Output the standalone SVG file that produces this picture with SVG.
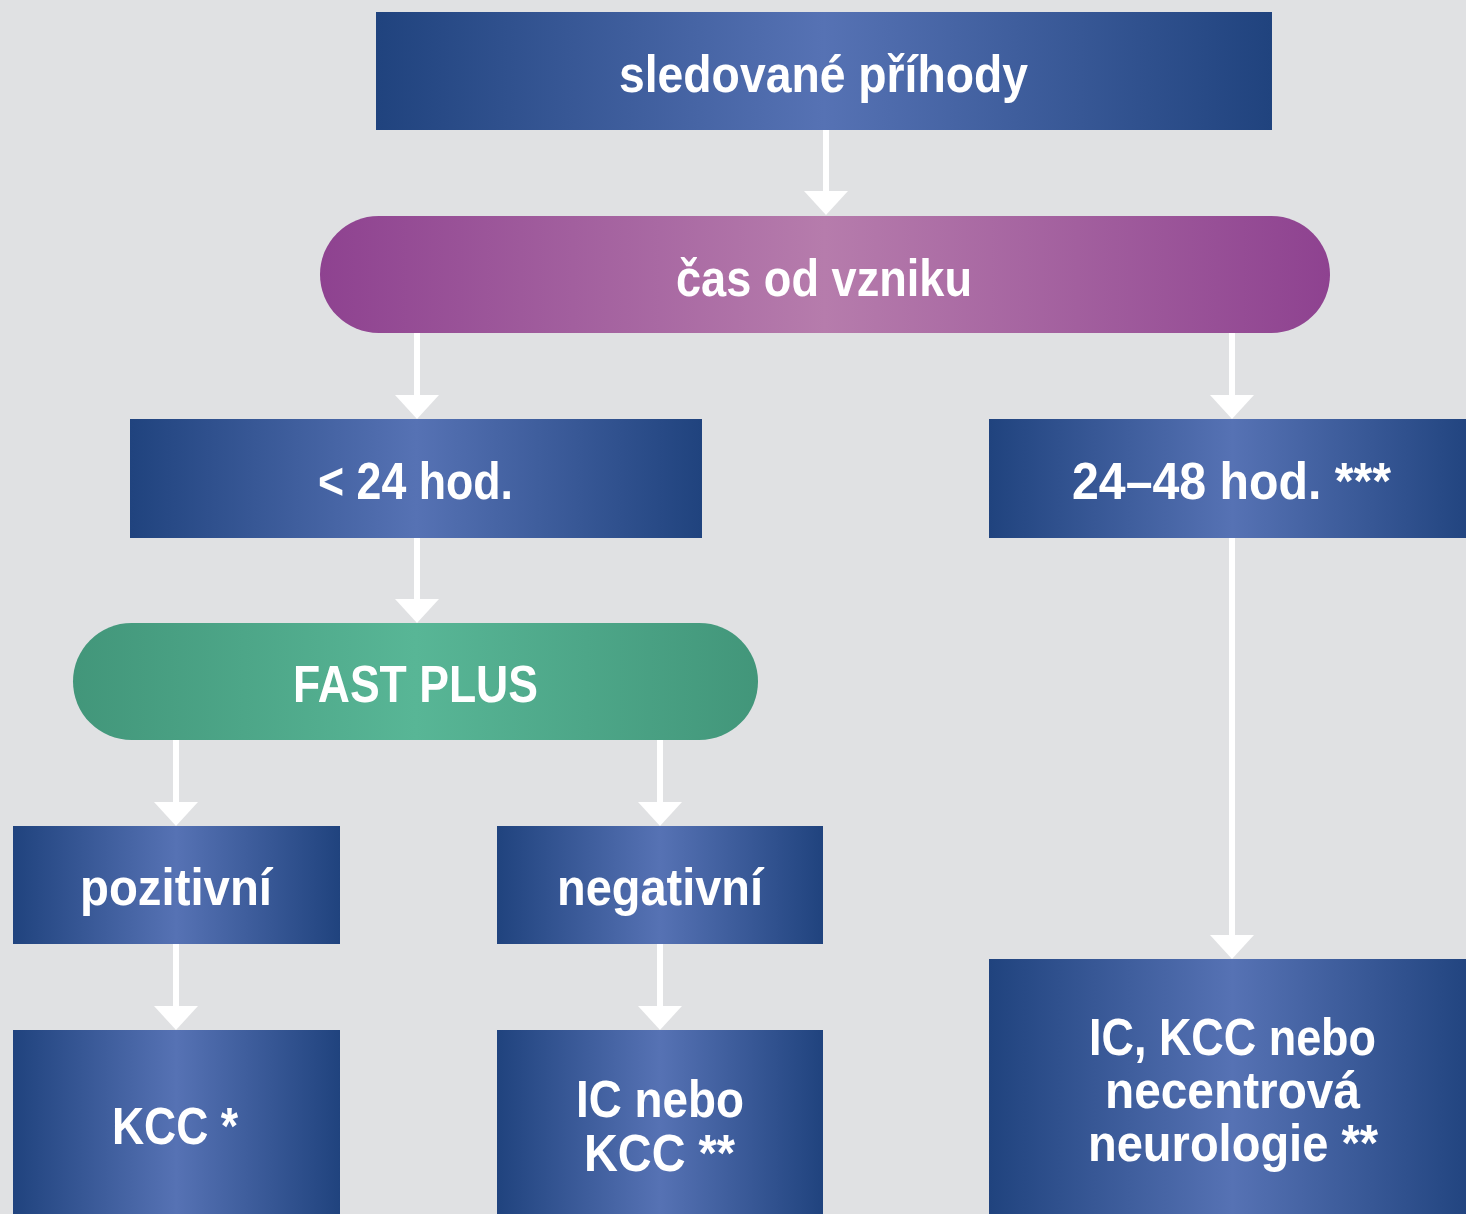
<svg xmlns="http://www.w3.org/2000/svg" width="1466" height="1214" viewBox="0 0 1466 1214">
<defs>
<linearGradient id="gBlue" x1="0" y1="0" x2="1" y2="0">
<stop offset="0" stop-color="#20437e"/>
<stop offset="0.5" stop-color="#5672b4"/>
<stop offset="1" stop-color="#20437e"/>
</linearGradient>
<linearGradient id="gPurple" x1="0" y1="0" x2="1" y2="0">
<stop offset="0" stop-color="#8e4290"/>
<stop offset="0.5" stop-color="#b67cac"/>
<stop offset="1" stop-color="#8e4290"/>
</linearGradient>
<linearGradient id="gGreen" x1="0" y1="0" x2="1" y2="0">
<stop offset="0" stop-color="#42967a"/>
<stop offset="0.5" stop-color="#58b696"/>
<stop offset="1" stop-color="#42967a"/>
</linearGradient>
<marker id="ah" viewBox="0 0 24 44" refX="4" refY="22" markerWidth="24" markerHeight="44" markerUnits="userSpaceOnUse" orient="auto">
<path d="M0,0 L24,22 L0,44 z" fill="#ffffff"/>
</marker>
</defs>
<style>
.blue{fill:url(#gBlue)}
.purple{fill:url(#gPurple)}
.green{fill:url(#gGreen)}
.t{font-family:"Liberation Sans",Arial,sans-serif;font-weight:bold;font-size:52px;fill:#ffffff}
.c{fill:none;stroke:#ffffff;stroke-width:6;marker-end:url(#ah)}
</style>
<rect width="1466" height="1214" fill="#e0e1e3"/>
<g id="connectors">
<line class="c" x1="826" y1="130" x2="826" y2="195"/>
<line class="c" x1="417" y1="333" x2="417" y2="399"/>
<line class="c" x1="1232" y1="333" x2="1232" y2="399"/>
<line class="c" x1="417" y1="538" x2="417" y2="603"/>
<line class="c" x1="176" y1="740" x2="176" y2="806"/>
<line class="c" x1="660" y1="740" x2="660" y2="806"/>
<line class="c" x1="176" y1="944" x2="176" y2="1010"/>
<line class="c" x1="660" y1="944" x2="660" y2="1010"/>
<line class="c" x1="1232" y1="538" x2="1232" y2="939"/>
</g>
<g id="n-sledovane">
<rect class="blue" x="376" y="12" width="896" height="118"/>
<text class="t" x="619" y="92" font-size="54" textLength="409" lengthAdjust="spacingAndGlyphs">sledované příhody</text>
</g>
<g id="n-cas">
<rect class="purple" x="320" y="216" width="1010" height="117" rx="58.5" ry="58.5"/>
<text class="t" x="676" y="296" textLength="296" lengthAdjust="spacingAndGlyphs">čas od vzniku</text>
</g>
<g id="n-lt24">
<rect class="blue" x="130" y="419" width="572" height="119"/>
<text class="t" x="318" y="499" textLength="195" lengthAdjust="spacingAndGlyphs">&lt; 24 hod.</text>
</g>
<g id="n-24-48">
<rect class="blue" x="989" y="419" width="487" height="119"/>
<text class="t" x="1072" y="499" textLength="319" lengthAdjust="spacingAndGlyphs">24–48 hod. ***</text>
</g>
<g id="n-fast">
<rect class="green" x="73" y="623" width="685" height="117" rx="58.5" ry="58.5"/>
<text class="t" x="293" y="702" textLength="245" lengthAdjust="spacingAndGlyphs">FAST PLUS</text>
</g>
<g id="n-pozitivni">
<rect class="blue" x="13" y="826" width="327" height="118"/>
<text class="t" x="80" y="905" textLength="192" lengthAdjust="spacingAndGlyphs">pozitivní</text>
</g>
<g id="n-negativni">
<rect class="blue" x="497" y="826" width="326" height="118"/>
<text class="t" x="557" y="905" textLength="206" lengthAdjust="spacingAndGlyphs">negativní</text>
</g>
<g id="n-kcc">
<rect class="blue" x="13" y="1030" width="327" height="194"/>
<text class="t" x="112" y="1144" textLength="126" lengthAdjust="spacingAndGlyphs">KCC *</text>
</g>
<g id="n-ic-kcc">
<rect class="blue" x="497" y="1030" width="326" height="194"/>
<text class="t" x="576" y="1117" textLength="168" lengthAdjust="spacingAndGlyphs">IC nebo</text>
<text class="t" x="584" y="1171" textLength="151" lengthAdjust="spacingAndGlyphs">KCC **</text>
</g>
<g id="n-ic-kcc-neuro">
<rect class="blue" x="989" y="959" width="487" height="265"/>
<text class="t" x="1089" y="1055" font-size="49" textLength="287" lengthAdjust="spacingAndGlyphs">IC, KCC nebo</text>
<text class="t" x="1105" y="1108" font-size="49" textLength="255" lengthAdjust="spacingAndGlyphs">necentrová</text>
<text class="t" x="1088" y="1161" font-size="49" textLength="290" lengthAdjust="spacingAndGlyphs">neurologie **</text>
</g>
</svg>
